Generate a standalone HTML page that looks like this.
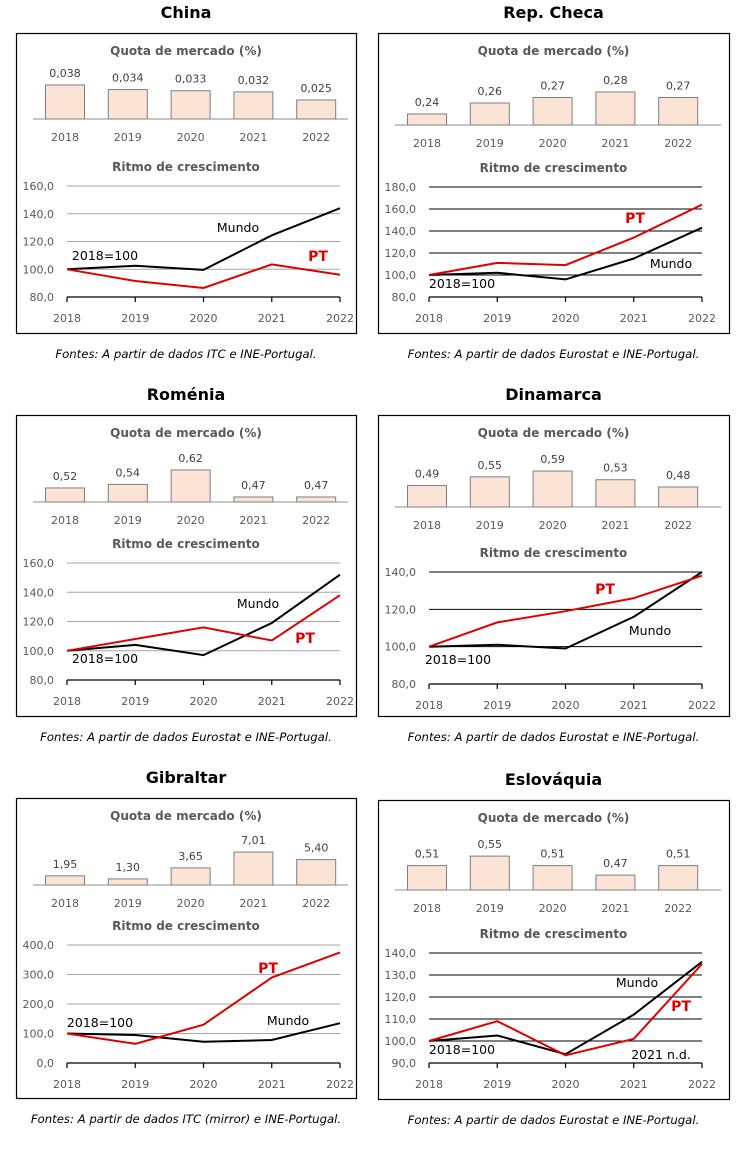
<!DOCTYPE html>
<html><head><meta charset="utf-8"><style>
body{margin:0;background:#fff;width:744px;height:1150px;overflow:hidden}
svg{display:block}
text{font-family:"DejaVu Sans","Liberation Sans",sans-serif}
</style></head><body>
<svg id="s" width="744" height="1150" viewBox="0 0 744 1150"></svg>
<script>
const years=["2018","2019","2020","2021","2022"];
const chinaQuota=[0.038,0.034,0.033,0.032,0.025];
const chinaQuotaLbl=["0,038","0,034","0,033","0,032","0,025"];
const chinaMundo=[100,102.5,99.5,124.5,144];
const chinaPT=[100,91.5,86.5,103.5,96];
const chinaTicks=[80,100,120,140,160];
const chequaQuota=[0.24,0.26,0.27,0.28,0.27];
const chequaQuotaLbl=["0,24","0,26","0,27","0,28","0,27"];
const chequaMundo=[100,102,96,115,143];
const chequaPT=[100,111,109,134,164];
const chequaTicks=[80,100,120,140,160,180];
const romQuota=[0.52,0.54,0.62,0.47,0.47];
const romQuotaLbl=["0,52","0,54","0,62","0,47","0,47"];
const romMundo=[100,104,97,119,152];
const romPT=[100,108,116,107,138];
const romTicks=[80,100,120,140,160];
const dinQuota=[0.49,0.55,0.59,0.53,0.48];
const dinQuotaLbl=["0,49","0,55","0,59","0,53","0,48"];
const dinMundo=[100,101,99,116,140];
const dinPT=[100,113,119,126,138];
const dinTicks=[80,100,120,140];
const gibQuota=[1.95,1.30,3.65,7.01,5.40];
const gibQuotaLbl=["1,95","1,30","3,65","7,01","5,40"];
const gibMundo=[100,95,72,78,135];
const gibPT=[100,65,130,290,375];
const gibTicks=[0,100,200,300,400];
const eslQuota=[0.51,0.55,0.51,0.47,0.51];
const eslQuotaLbl=["0,51","0,55","0,51","0,47","0,51"];
const eslMundo=[100,102.5,94,112,136];
const eslPT=[100,109,93.5,101,135];
const eslTicks=[90,100,110,120,130,140];

const NS="http://www.w3.org/2000/svg";
const svg=document.getElementById('s');
function el(tag,attrs,parent,txt){const e=document.createElementNS(NS,tag);for(const k in attrs)e.setAttribute(k,attrs[k]);if(txt!==undefined)e.textContent=txt;(parent||svg).appendChild(e);return e;}

function panel(p){
  const g=el('g',{});
  
  
  const t=el('text',{x:(p.bx0+p.bx1)/2,y:p.by0-15,'text-anchor':'middle','font-size':16,'font-weight':'bold',fill:'#000'},g,p.title);
  
  
  const box=el('rect',{x:p.bx0+0.5,y:p.by0+0.5,width:p.bx1-p.bx0,height:p.by1-p.by0,fill:'none',stroke:'#000','stroke-width':1.2},g);
  
  
  const cx=(p.bx0+p.bx1)/2;
  const qt=el('text',{x:cx,y:p.by0+22,'text-anchor':'middle','font-size':12,'font-weight':'bold',fill:'#595959'},g,'Quota de mercado (%)');
  
  
  const barX=i=>p.bx0+49+i*62.8;
  const barH=v=>Math.max(0,(v-p.bmin)*p.bscale);
  const bl=el('line',{x1:p.bx0+17,x2:p.bx1-8,y1:p.base,y2:p.base,stroke:'#8c8c8c','stroke-width':1},g);
  
  
  p.quota.forEach((v,i)=>{
    const h=barH(v);
    const r=el('rect',{x:barX(i)-19.5,y:p.base-h,width:39,height:h,fill:'#fbe3d6',stroke:'#7f7f7f','stroke-width':1},g);
    
    
    const l=el('text',{x:barX(i),y:p.base-h-8,'text-anchor':'middle','font-size':11,fill:'#404040'},g,p.qlbl[i]);
    
    
    const yl=el('text',{x:barX(i),y:p.base+22,'text-anchor':'middle','font-size':11,fill:'#595959'},g,years[i]);
    
    
  });
  const x0=p.bx0+51,x1=p.bx0+324;
  const xs=i=>x0+i*(x1-x0)/4;
  const tk=p.ticks;
  const ys=v=>p.ly0+(tk[tk.length-1]-v)/(tk[tk.length-1]-tk[0])*(p.ly1-p.ly0);
  const rt=el('text',{x:cx,y:p.ly0-15,'text-anchor':'middle','font-size':12,'font-weight':'bold',fill:'#595959'},g,'Ritmo de crescimento');
  
  
  tk.forEach((v,j)=>{
    if(j>0){const gl=el('line',{x1:x0,x2:x1,y1:ys(v),y2:ys(v),stroke:p.gridc,'stroke-width':1},g);
      
      }
    const lab=v.toFixed(1).replace('.',',');
    const tl=el('text',{x:x0-13,y:ys(v)+4,'text-anchor':'end','font-size':11,fill:'#595959'},g,lab);
    
    
  });
  const ax=el('line',{x1:x0,x2:x1,y1:p.ly1,y2:p.ly1,stroke:'#000','stroke-width':1.2},g);
  
  
  years.forEach((y,i)=>{
    el('line',{x1:xs(i),x2:xs(i),y1:p.ly1,y2:p.ly1+5,stroke:'#000','stroke-width':1.2},g);
    const xl=el('text',{x:xs(i),y:p.ly1+25,'text-anchor':'middle','font-size':11,fill:'#595959'},g,y);
    
    
  });
  const pts=a=>a.map((v,i)=>xs(i).toFixed(1)+','+ys(v).toFixed(1)).join(' ');
  const m=el('polyline',{points:pts(p.mundo),fill:'none',stroke:'#000','stroke-width':2},g);
  
  
  const pt=el('polyline',{points:pts(p.pt),fill:'none',stroke:'#e00000','stroke-width':2},g);
  
  
  p.labels.forEach(L=>{
    const a={x:L[1],y:L[2],'text-anchor':'middle','font-size':L[0]==='PT'?14:12.5,fill:L[0]==='PT'?'#e00000':'#000'};
    if(L[0]==='PT')a['font-weight']='bold';
    const e=el('text',a,g,L[0]);
    
    
  });
  const src=el('text',{x:cx,y:p.by1+25,'text-anchor':'middle','font-size':11.7,'font-style':'italic',fill:'#000'},g,p.src);
  
  
}

const L=16,R=378;
panel({id:'china',title:'China',bx0:L,bx1:356,by0:33,by1:333,base:119,bmin:0.0085,bscale:1154,quota:chinaQuota,qlbl:chinaQuotaLbl,ticks:chinaTicks,ly0:186,ly1:297,gridc:'#a6a6a6',mundo:chinaMundo,pt:chinaPT,
 labels:[['Mundo',238,232],['2018=100',105,260],['PT',318,261]],src:'Fontes: A partir de dados ITC e INE-Portugal.'});
panel({id:'rep-checa',title:'Rep. Checa',bx0:R,bx1:729,by0:33,by1:333,base:125,bmin:0.22,bscale:550,quota:chequaQuota,qlbl:chequaQuotaLbl,ticks:chequaTicks,ly0:187,ly1:297,gridc:'#000',mundo:chequaMundo,pt:chequaPT,
 labels:[['PT',635,223],['Mundo',671,268],['2018=100',462,288]],src:'Fontes: A partir de dados Eurostat e INE-Portugal.'});
panel({id:'romenia',title:'Roménia',bx0:L,bx1:356,by0:415,by1:716,base:502,bmin:0.442,bscale:180,quota:romQuota,qlbl:romQuotaLbl,ticks:romTicks,ly0:563,ly1:680,gridc:'#a6a6a6',mundo:romMundo,pt:romPT,
 labels:[['Mundo',258,608],['PT',305,643],['2018=100',105,663]],src:'Fontes: A partir de dados Eurostat e INE-Portugal.'});
panel({id:'dinamarca',title:'Dinamarca',bx0:R,bx1:729,by0:415,by1:716,base:507,bmin:0.342,bscale:145,quota:dinQuota,qlbl:dinQuotaLbl,ticks:dinTicks,ly0:572,ly1:684,gridc:'#000',mundo:dinMundo,pt:dinPT,
 labels:[['PT',605,594],['Mundo',650,635],['2018=100',458,664]],src:'Fontes: A partir de dados Eurostat e INE-Portugal.'});
panel({id:'gibraltar',title:'Gibraltar',bx0:L,bx1:356,by0:798,by1:1098,base:885,bmin:0,bscale:4.7,quota:gibQuota,qlbl:gibQuotaLbl,ticks:gibTicks,ly0:945,ly1:1063,gridc:'#a6a6a6',mundo:gibMundo,pt:gibPT,
 labels:[['PT',268,973],['Mundo',288,1025],['2018=100',100,1027]],src:'Fontes: A partir de dados ITC (mirror) e INE-Portugal.'});
panel({id:'eslovaquia',title:'Eslováquia',bx0:R,bx1:729,by0:800,by1:1099,base:890,bmin:0.407,bscale:237,quota:eslQuota,qlbl:eslQuotaLbl,ticks:eslTicks,ly0:953,ly1:1063,gridc:'#000',mundo:eslMundo,pt:eslPT,
 labels:[['Mundo',637,987],['PT',681,1011],['2018=100',462,1054],['2021 n.d.',661,1059]],src:'Fontes: A partir de dados Eurostat e INE-Portugal.'});
</script>
</body></html>
